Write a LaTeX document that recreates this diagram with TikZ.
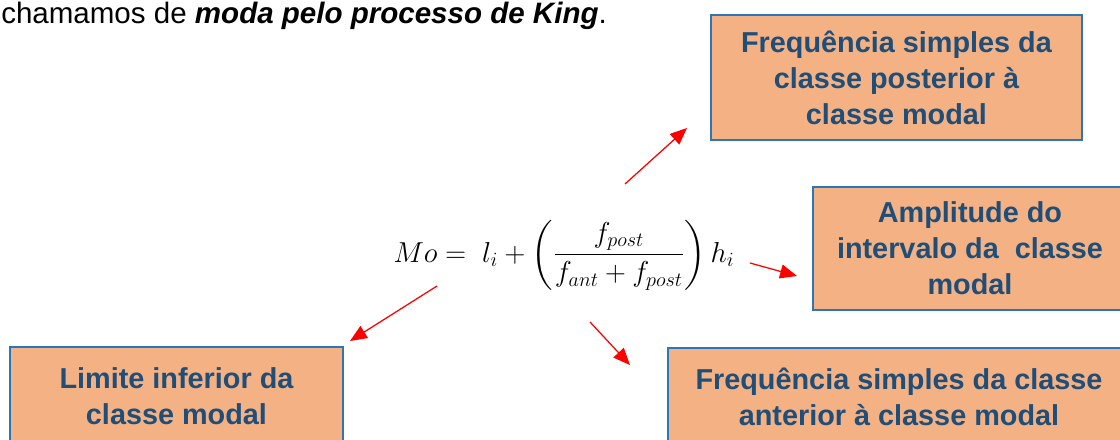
\documentclass[tikz,border=0pt]{standalone}
\usepackage{fix-cm}
\usepackage{amsmath}
\usepackage{fontspec}
\setmainfont{Liberation Sans}
\usetikzlibrary{arrows.meta}
\definecolor{boxfill}{HTML}{F4B183}
\definecolor{boxline}{HTML}{2E75B6}
\definecolor{boxtext}{HTML}{1F4E79}

\begin{document}
\begin{tikzpicture}[x=0.025cm,y=-0.025cm,
  box/.style={draw=boxline,line width=2pt,fill=boxfill,text=boxtext,align=center,inner sep=0pt,
    font=\fontsize{20.5}{25.6}\selectfont\bfseries},
  link/.style={red,line width=0.9pt,-{Triangle[length=12pt,width=10pt]}}]
\useasboundingbox (0,0) rectangle (1120,440);
% texto de abertura
\node[anchor=base west,inner sep=0pt,font=\fontsize{21}{25}\selectfont] (intro) at (1,24)
  {chamamos de \textbf{\textit{moda pelo processo de King}}.};
% formula de King
\node[inner sep=0pt,font=\fontsize{20.5}{24}\selectfont] (king) at (564,255)
  {$\displaystyle Mo =\; l_i + \left(\frac{f_{post}}{f_{ant}+f_{post}}\right)h_i$};
% caixas
\node[box,minimum width=9.275cm,minimum height=3.125cm] (post) at (896.5,77.5)
  {Frequência simples da\\classe posterior à\\classe modal};
\node[box,minimum width=7.85cm,minimum height=3.075cm] (ampl) at (970,248.5)
  {Amplitude do\\intervalo da\ \ classe\\modal};
\node[box,minimum width=8.325cm,minimum height=2.45cm] (lim) at (176.5,396)
  {Limite inferior da\\classe modal};
\node[box,minimum width=11.55cm,minimum height=2.45cm] (ant) at (899,397)
  {Frequência simples da classe\\anterior à classe modal};
% setas
\coordinate (s1) at (625,184); \coordinate (e1) at (687,128);
\coordinate (s2) at (750,263); \coordinate (e2) at (797,276);
\coordinate (s3) at (437,286); \coordinate (e3) at (350,341);
\coordinate (s4) at (590,322); \coordinate (e4) at (630,365);
\draw[link] (s1) -- (e1);
\draw[link] (s2) -- (e2);
\draw[link] (s3) -- (e3);
\draw[link] (s4) -- (e4);
\end{tikzpicture}
\end{document}
